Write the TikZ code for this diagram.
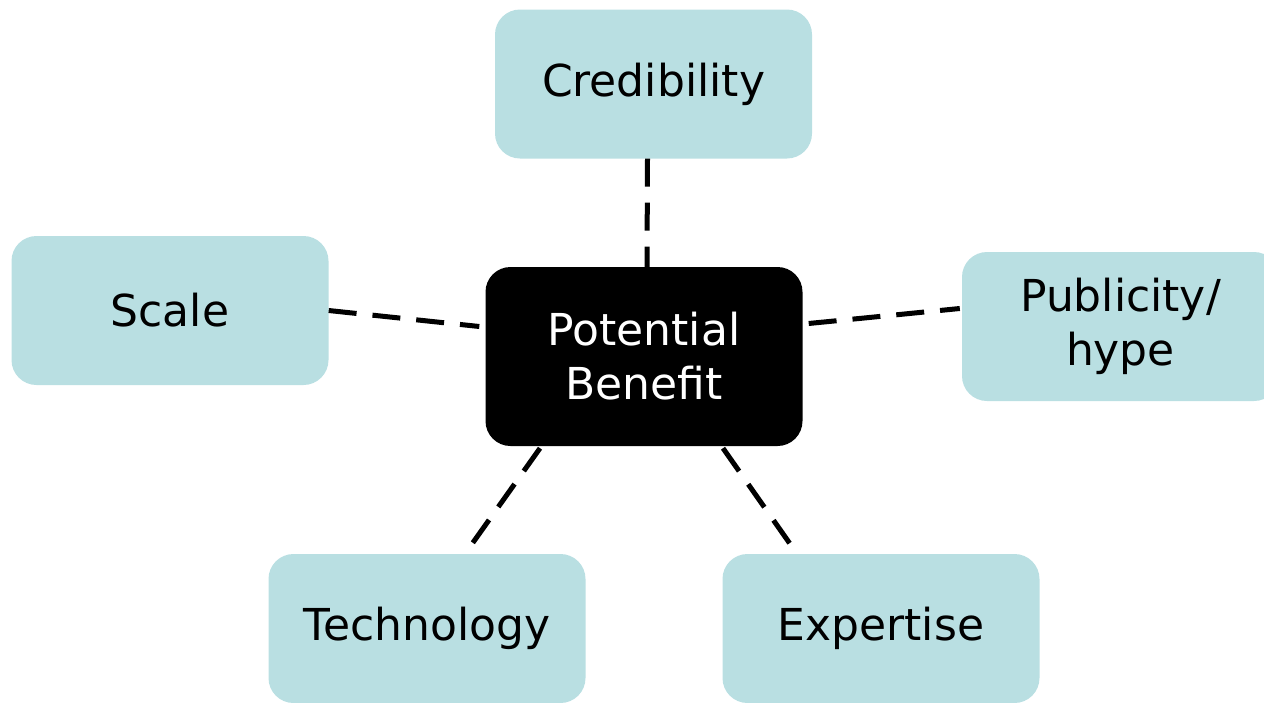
\documentclass[tikz,border=0pt]{standalone}
\usepackage{fontspec}
\setmainfont{DejaVu Sans}
\usetikzlibrary{calc}
\definecolor{paleteal}{HTML}{B9DFE2}

\begin{document}
\begin{tikzpicture}[
  x=1pt, y=-1pt,
  box/.style={fill=paleteal, rounded corners=25pt, align=center,
              minimum width=317pt, minimum height=149pt, inner sep=0pt,
              font=\fontsize{44}{54}\selectfont},
  hub/.style={box, fill=black, text=white, minimum height=179pt},
  link/.style={line width=5pt, dash pattern=on 28pt off 16pt}
]
\clip (0,0) rectangle (1264,702);
\useasboundingbox (0,0) rectangle (1264,702);
\node[hub] (hub) at (644,356.5) {Potential\\Benefit};
\node[box] (cred) at (653.5,84) {Credibility};
\node[box] (scale) at (170,310.5) {Scale};
\node[box] (pub) at (1120.5,326.5) {Publicity/\\hype};
\node[box] (tech) at (427,628.5) {Technology};
\node[box] (exp) at (881,628.5) {Expertise};
\draw[link] ($(cred.south)+(-6,0)$) -- ($(hub.north)+(3,0)$);
\draw[link] (scale.east) -- ($(hub.west)+(-6,-30)$);
\draw[link] ($(hub.east)+(6,-33)$) -- ($(pub.west)+(-2,-18)$);
\draw[link] ($(hub.south)+(-104,2)$) -- ($(tech.north)+(38,0)$);
\draw[link] ($(hub.south)+(79,2)$) -- ($(exp.north)+(-84,0)$);
\end{tikzpicture}
\end{document}
